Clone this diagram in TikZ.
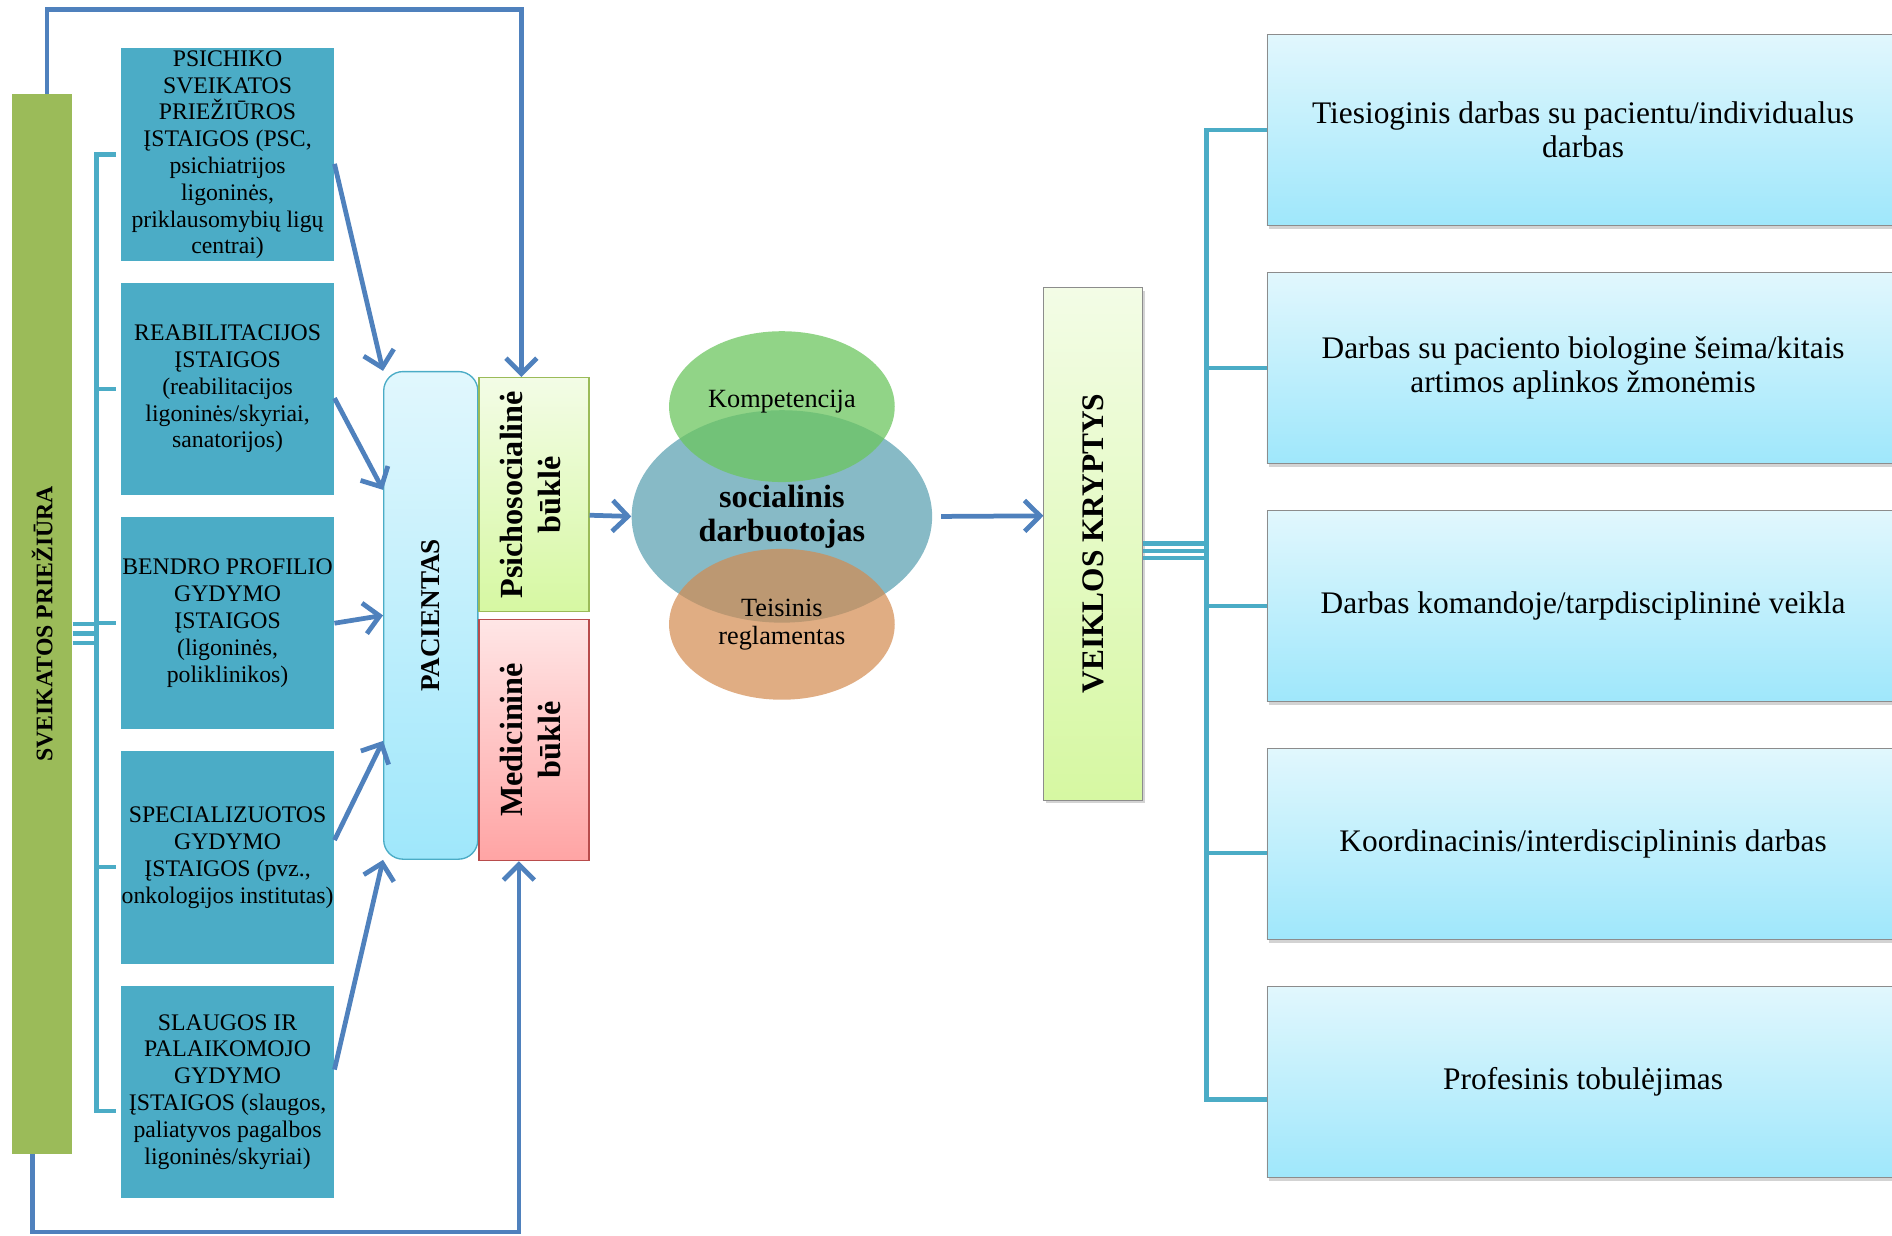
\documentclass[tikz,border=0pt]{standalone}
\usepackage{fontspec}
\setmainfont{Liberation Serif}
\usetikzlibrary{positioning,arrows.meta,shapes.geometric,shadows}
\definecolor{sgreen}{HTML}{9BBB59}
\definecolor{iblue}{HTML}{4BACC6}
\definecolor{ablue}{HTML}{4F81BD}
\definecolor{cyantop}{HTML}{E1F7FD}
\definecolor{cyanbot}{HTML}{9FE7FB}
\definecolor{limetop}{HTML}{F3FCE6}
\definecolor{limebot}{HTML}{D6F8A2}
\definecolor{rosetop}{HTML}{FFE6E6}
\definecolor{rosebot}{HTML}{FFA4A4}
\definecolor{swblue}{HTML}{87BAC6}
\definecolor{kgreen}{HTML}{6CC55F}
\definecolor{torange}{HTML}{D38A4F}
\newcommand{\vtext}[1]{\rotatebox{90}{\begin{tabular}{@{}c@{}}#1\end{tabular}}}

\begin{document}
\begin{tikzpicture}[x=0.025cm,y=-0.025cm,>={Straight Barb[length=3.2mm,width=6.4mm]},
ar/.style={->,draw=ablue,line width=2.8pt},
br/.style={draw=iblue,line width=2.6pt},
ist/.style={fill=iblue,minimum width=4.415cm,minimum height=4.4cm,inner sep=0pt,align=center,font=\fontsize{14}{15.8}\selectfont},
kr/.style={draw=black!45,top color=cyantop,bottom color=cyanbot,minimum width=13.1cm,minimum height=3.95cm,align=center,font=\fontsize{18.5}{20}\selectfont,drop shadow={shadow xshift=1.5pt,shadow yshift=-2pt,opacity=0.35}},
ell/.style={ellipse,inner sep=0pt,align=center}]
\useasboundingbox (0,0) rectangle (1568,1024);

\node[fill=sgreen,minimum width=1.25cm,minimum height=21.95cm,inner sep=0pt,font=\bfseries\fontsize{14}{16}\selectfont](sp) at (35,517) {\rotatebox{90}{SVEIKATOS PRIEŽIŪRA}};

\node[ist](i1) at (188.6,128.2) {PSICHIKO\\SVEIKATOS\\PRIEŽIŪROS\\ĮSTAIGOS (PSC,\\psichiatrijos\\ligoninės,\\priklausomybių ligų\\centrai)};
\node[ist,node distance=4.8525cm](i2)[below of=i1]{REABILITACIJOS\\ĮSTAIGOS\\(reabilitacijos\\ligoninės/skyriai,\\sanatorijos)};
\node[ist,node distance=4.8525cm](i3)[below of=i2]{BENDRO PROFILIO\\GYDYMO\\ĮSTAIGOS\\(ligoninės,\\poliklinikos)};
\node[ist,node distance=4.8525cm](i4)[below of=i3]{SPECIALIZUOTOS\\GYDYMO\\ĮSTAIGOS (pvz.,\\onkologijos institutas)};
\node[ist,node distance=4.8525cm](i5)[below of=i4]{SLAUGOS IR\\PALAIKOMOJO\\GYDYMO\\ĮSTAIGOS (slaugos,\\paliatyvos pagalbos\\ligoninės/skyriai)};

\node[draw=iblue,line width=0.8pt,top color=cyantop,bottom color=cyanbot,rounded corners=0.4cm,minimum width=1.95cm,minimum height=10.1cm,inner sep=0pt,font=\bfseries\fontsize{16}{18}\selectfont](pac) at (357,510) {\rotatebox{90}{PACIENTAS}};
\node[draw=sgreen,line width=0.8pt,top color=limetop,bottom color=limebot,minimum width=2.275cm,minimum height=4.85cm,inner sep=0pt,font=\bfseries\fontsize{19}{22.7}\selectfont](psy) at (442.5,410) {\vtext{Psichosocialinė\\būklė}};
\node[draw=red!60!black!70,line width=0.8pt,top color=rosetop,bottom color=rosebot,minimum width=2.275cm,minimum height=5cm,inner sep=0pt,font=\bfseries\fontsize{19}{22.7}\selectfont](med)[below=0.125cm of psy]{\vtext{Medicininė\\būklė}};

\node[ell,fill=swblue,minimum width=6.225cm,minimum height=4.4cm,font=\bfseries\fontsize{19}{20}\selectfont](sw) at (648,428) {socialinis\\darbuotojas};
\node[ell,fill=kgreen,fill opacity=0.75,text opacity=1,minimum width=4.675cm,minimum height=3.125cm,font=\fontsize{15.5}{16.5}\selectfont](kom) at (648,337) {\raisebox{0.1cm}[\height][\depth]{Kompetencija}};
\node[ell,fill=torange,fill opacity=0.7,text opacity=1,minimum width=4.675cm,minimum height=3.125cm,font=\fontsize{15.5}{16.5}\selectfont](tei) at (648,517.4) {Teisinis\\reglamentas};

\node[draw=black!45,top color=limetop,bottom color=limebot,minimum width=2.05cm,minimum height=10.625cm,inner sep=0pt,font=\bfseries\fontsize{18.5}{20}\selectfont,drop shadow={shadow xshift=1.5pt,shadow yshift=-2pt,opacity=0.35}](vk) at (906,450.5) {\rotatebox{90}{VEIKLOS KRYPTYS}};

\node[kr](k1) at (1312,107.8) {Tiesioginis darbas su pacientu/individualus\\darbas};
\node[kr,node distance=4.93cm](k2)[below of=k1]{Darbas su paciento biologine šeima/kitais\\artimos aplinkos žmonėmis};
\node[kr,node distance=4.93cm](k3)[below of=k2]{Darbas komandoje/tarpdisciplininė veikla};
\node[kr,node distance=4.93cm](k4)[below of=k3]{Koordinacinis/interdisciplininis darbas};
\node[kr,node distance=4.93cm](k5)[below of=k4]{Profesinis tobulėjimas};

% left bracket
\coordinate (lb1) at (80,517);
\coordinate (lb2) at (80,525);
\coordinate (lb3) at (80,533);
\coordinate (t1) at ([xshift=-0.1cm]i1.west);
\coordinate (t2) at ([xshift=-0.1cm]i2.west);
\coordinate (t3) at ([xshift=-0.1cm]i3.west);
\coordinate (t4) at ([xshift=-0.1cm,yshift=-0.2cm]i4.west);
\coordinate (t5) at ([xshift=-0.1cm,yshift=-0.4cm]i5.west);
\draw[br] (t1) -| (lb1 |- t5) -- (t5);
\draw[br] (t2) -- (lb1 |- t2); \draw[br] (t3) -- (lb1 |- t3);
\draw[br] (t4) -- (lb1 |- t4);
\draw[br] (lb1 -| sp.east) -- (lb1); \draw[br] (lb2 -| sp.east) -- (lb2);
\draw[br] (lb3 -| sp.east) -- (lb3);

% right bracket
\coordinate (rb1) at (1000,450.5);
\coordinate (rb2) at (1000,456.5);
\coordinate (rb3) at (1000,462.5);
\coordinate (r4) at ([yshift=-0.19cm]k4.west);
\coordinate (r5) at ([yshift=-0.36cm]k5.west);
\draw[br] (k1.west) -| (rb1 |- r5) -- (r5);
\draw[br] (k2.west) -- (rb1 |- k2.west); \draw[br] (k3.west) -- (rb1 |- k3.west);
\draw[br] (r4) -- (rb1 |- r4);
\draw[br] (rb1 -| vk.east) -- (rb1); \draw[br] (rb2 -| vk.east) -- (rb2);
\draw[br] (rb3 -| vk.east) -- (rb3);

% arrows
\draw[ar] ([yshift=-0.19cm]i1.east) -- (pac.north west);
\draw[ar] ([yshift=-0.19cm]i2.east) -- ([yshift=2.6cm]pac.west);
\draw[ar] (i3.east) -- (pac.west);
\draw[ar] ([yshift=0.36cm]i4.east) -- ([yshift=-2.6cm]pac.west);
\draw[ar] ([yshift=0.46cm]i5.east) -- (pac.south west);
\coordinate (fb1) at (230,8);
\coordinate (fb2) at (230,1021);
\draw[ar] ([xshift=0.1cm]sp.north) |- (fb1) -| ([xshift=-0.26cm]psy.north);
\draw[ar] ([xshift=-0.2cm]sp.south) |- (fb2) -| ([xshift=-0.31cm]med.south);
\draw[ar] ([yshift=-0.425cm]psy.east) -- (sw.west);
\draw[ar] ([xshift=0.18cm]sw.east) -- ([yshift=0.575cm]vk.west);

\end{tikzpicture}
\end{document}
